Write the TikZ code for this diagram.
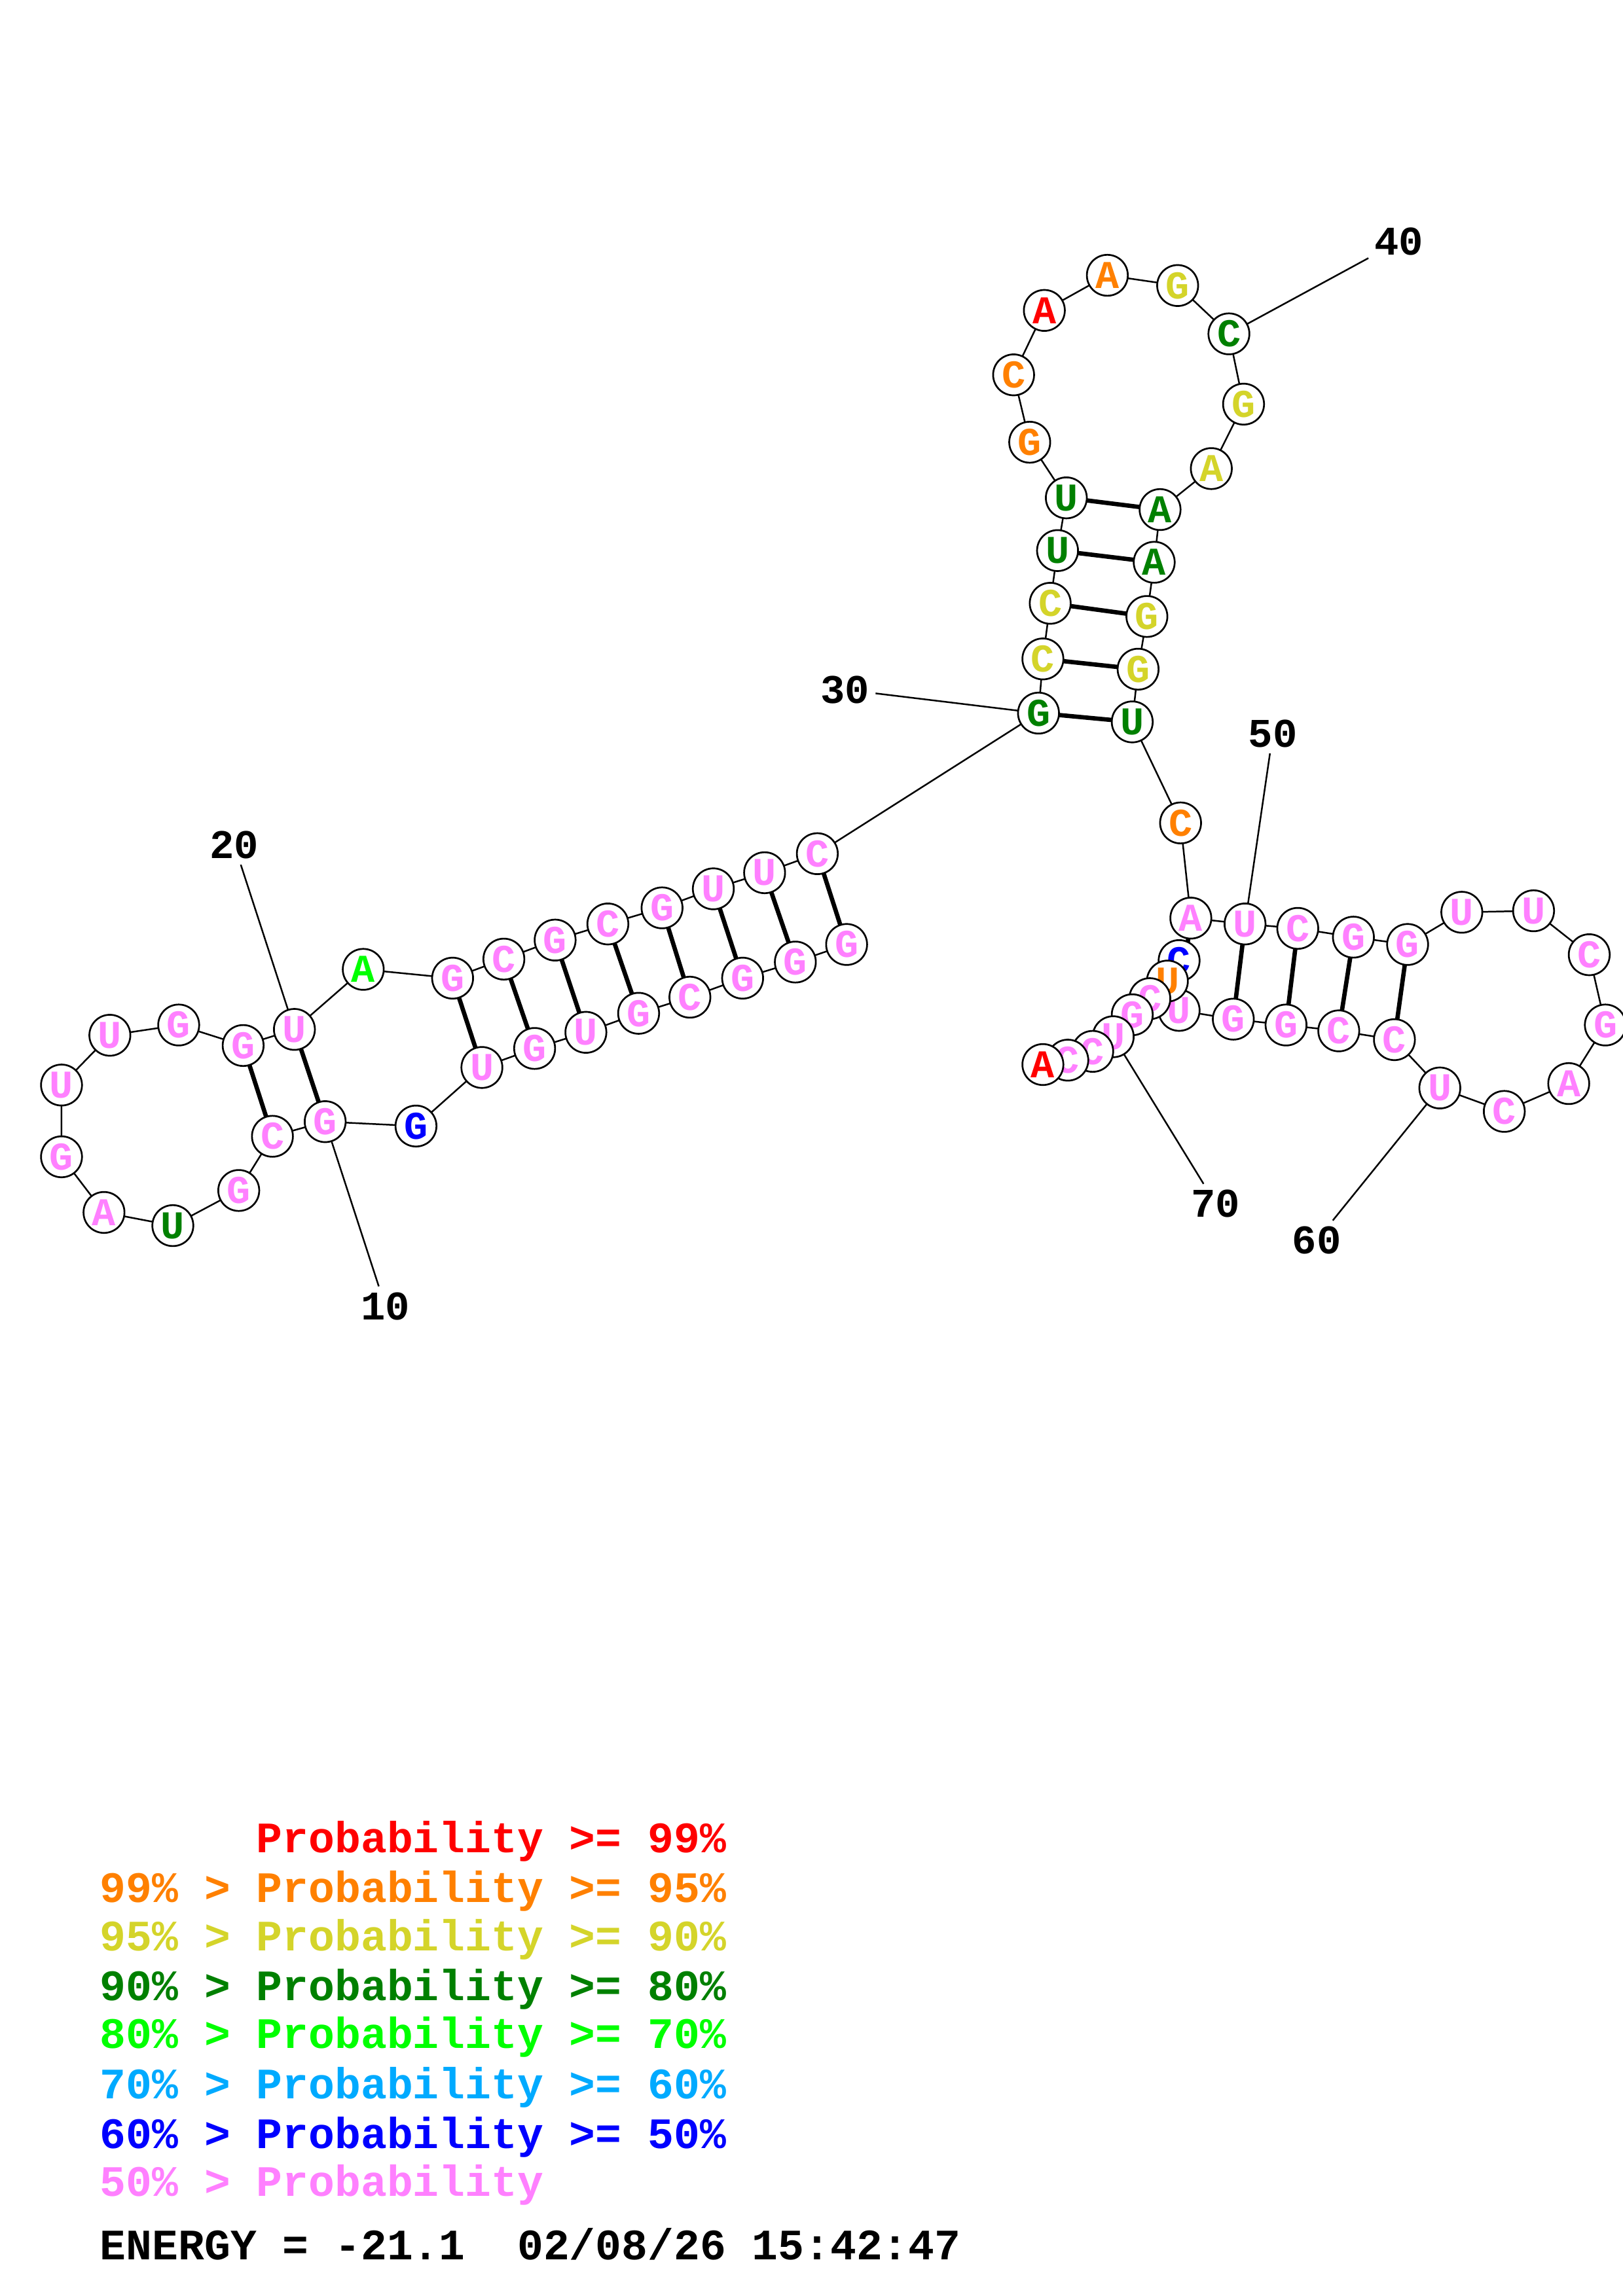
\documentclass[tikz,border=0pt]{standalone}
\usepackage{fontspec}
\usepackage{tikz}
\newfontfamily\courbd{Liberation Mono}[WordSpace={1,0,0}]
\definecolor{c99}{RGB}{255,0,0}
\definecolor{c95}{RGB}{255,128,0}
\definecolor{c90}{RGB}{212,212,42}
\definecolor{c80}{RGB}{0,128,0}
\definecolor{c70}{RGB}{0,255,0}
\definecolor{c60}{RGB}{0,170,255}
\definecolor{c50}{RGB}{0,0,255}
\definecolor{c00}{RGB}{255,128,255}
\pgfdeclarelayer{background}
\pgfsetlayers{background,main}

\begin{document}
\begin{tikzpicture}[x=0.018953cm,y=-0.018953cm,
  base/.style={circle,draw,line width=0.65pt,fill=white,minimum size=0.53cm,inner sep=0pt,
    font=\courbd\bfseries\fontsize{14.5}{14.5}\selectfont},
  p99/.style={base,text=c99},
  p95/.style={base,text=c95},
  p90/.style={base,text=c90},
  p80/.style={base,text=c80},
  p70/.style={base,text=c70},
  p50/.style={base,text=c50},
  p00/.style={base,text=c00},
  bb/.style={line width=0.6pt},
  bp/.style={line width=1.6pt},
  num/.style={inner sep=2pt,font=\courbd\bfseries\fontsize{15}{15}\selectfont},
  leg/.style={anchor=base west,inner sep=0pt,font=\courbd\bfseries\fontsize{16}{16}\selectfont}]
\useasboundingbox (0,0) rectangle (1108,1568);

% left stem and loop
\node[p00] (n1) at (578,645) {G};
\node[p00] (n2) at (543,657) {G};
\node[p00] (n3) at (507,668) {G};
\node[p00] (n4) at (471,681) {C};
\node[p00] (n5) at (436,692) {G};
\node[p00] (n6) at (400,705) {U};
\node[p00] (n7) at (365,716) {G};
\node[p00] (n8) at (329,729) {U};
\node[p50] (n9) at (284,769) {G};
\node[p00] (n10) at (222,766) {G};
\node[p00] (n11) at (186,776) {C};
\node[p00] (n12) at (163,813) {G};
\node[p80] (n13) at (118,837) {U};
\node[p00] (n14) at (71,828) {A};
\node[p00] (n15) at (42,790) {G};
\node[p00] (n16) at (42,741) {U};
\node[p00] (n17) at (75,707) {U};
\node[p00] (n18) at (122,700) {G};
\node[p00] (n19) at (166,714) {G};
\node[p00] (n20) at (201,703) {U};
\node[p70] (n21) at (248,662) {A};
\node[p00] (n22) at (309,668) {G};
\node[p00] (n23) at (344,655) {C};
\node[p00] (n24) at (379,642) {G};
\node[p00] (n25) at (415,631) {C};
\node[p00] (n26) at (452,620) {G};
\node[p00] (n27) at (487,607) {U};
\node[p00] (n28) at (522,596) {U};
\node[p00] (n29) at (558,583) {C};

% top hairpin
\node[p80] (n30) at (709,487) {G};
\node[p90] (n31) at (712,450) {C};
\node[p90] (n32) at (717,412) {C};
\node[p80] (n33) at (722,376) {U};
\node[p80] (n34) at (728,340) {U};
\node[p95] (n35) at (703,302) {G};
\node[p95] (n36) at (692,256) {C};
\node[p99] (n37) at (713,212) {A};
\node[p95] (n38) at (756,188) {A};
\node[p90] (n39) at (804,195) {G};
\node[p80] (n40) at (839,228) {C};
\node[p90] (n41) at (849,276) {G};
\node[p90] (n42) at (827,320) {A};
\node[p80] (n43) at (792,348) {A};
\node[p80] (n44) at (788,384) {A};
\node[p90] (n45) at (783,421) {G};
\node[p90] (n46) at (777,457) {G};
\node[p80] (n47) at (773,493) {U};
\node[p95] (n48) at (806,562) {C};

% right hairpin and tail
\node[p00] (n49) at (813,627) {A};
\node[p00] (n50) at (850,631) {U};
\node[p00] (n51) at (886,634) {C};
\node[p00] (n52) at (924,640) {G};
\node[p00] (n53) at (961,645) {G};
\node[p00] (n54) at (998,623) {U};
\node[p00] (n55) at (1047,622) {U};
\node[p00] (n56) at (1085,652) {C};
\node[p00] (n57) at (1096,700) {G};
\node[p00] (n58) at (1071,740) {A};
\node[p00] (n59) at (1027,759) {C};
\node[p00] (n60) at (983,743) {U};
\node[p00] (n61) at (952,710) {C};
\node[p00] (n62) at (914,704) {C};
\node[p00] (n63) at (878,700) {G};
\node[p00] (n64) at (842,696) {G};
\node[p00] (n65) at (805,690) {U};
\node[p50] (n66) at (805,656) {C};
\node[p95] (n67) at (797,670) {U};
\node[p00] (n68) at (785,682) {C};
\node[p00] (n69) at (773,693) {G};
\node[p00] (n70) at (760,708) {U};
\node[p00] (n71) at (746,718) {C};
\node[p00] (n72) at (729,724) {C};
\node[p99] (n73) at (712,727) {A};

% numbers
\node[num] (t10) at (263,892) {10};
\node[num] (t20) at (160,577) {20};
\node[num] (t30) at (577,471) {30};
\node[num] (t40) at (955,165) {40};
\node[num] (t50) at (869,501) {50};
\node[num] (t60) at (899,847) {60};
\node[num] (t70) at (830,822) {70};

\begin{pgfonlayer}{background}
% backbone
\draw[bb] (n1.center) -- (n2.center) -- (n3.center) -- (n4.center) -- (n5.center)
  -- (n6.center) -- (n7.center) -- (n8.center) -- (n9.center) -- (n10.center)
  -- (n11.center) -- (n12.center) -- (n13.center) -- (n14.center) -- (n15.center)
  -- (n16.center) -- (n17.center) -- (n18.center) -- (n19.center) -- (n20.center)
  -- (n21.center) -- (n22.center) -- (n23.center) -- (n24.center) -- (n25.center)
  -- (n26.center) -- (n27.center) -- (n28.center) -- (n29.center) -- (n30.center)
  -- (n31.center) -- (n32.center) -- (n33.center) -- (n34.center) -- (n35.center)
  -- (n36.center) -- (n37.center) -- (n38.center) -- (n39.center) -- (n40.center)
  -- (n41.center) -- (n42.center) -- (n43.center) -- (n44.center) -- (n45.center)
  -- (n46.center) -- (n47.center) -- (n48.center) -- (n49.center) -- (n50.center)
  -- (n51.center) -- (n52.center) -- (n53.center) -- (n54.center) -- (n55.center)
  -- (n56.center) -- (n57.center) -- (n58.center) -- (n59.center) -- (n60.center)
  -- (n61.center) -- (n62.center) -- (n63.center) -- (n64.center) -- (n65.center)
  -- (n66.center) -- (n67.center) -- (n68.center) -- (n69.center) -- (n70.center)
  -- (n71.center) -- (n72.center) -- (n73.center);
% pairs
\draw[bp] (n1.center) -- (n29.center);
\draw[bp] (n2.center) -- (n28.center);
\draw[bp] (n3.center) -- (n27.center);
\draw[bp] (n4.center) -- (n26.center);
\draw[bp] (n5.center) -- (n25.center);
\draw[bp] (n6.center) -- (n24.center);
\draw[bp] (n7.center) -- (n23.center);
\draw[bp] (n8.center) -- (n22.center);
\draw[bp] (n10.center) -- (n20.center);
\draw[bp] (n11.center) -- (n19.center);
\draw[bp] (n30.center) -- (n47.center);
\draw[bp] (n31.center) -- (n46.center);
\draw[bp] (n32.center) -- (n45.center);
\draw[bp] (n33.center) -- (n44.center);
\draw[bp] (n34.center) -- (n43.center);
\draw[bp] (n49.center) -- (n65.center);
\draw[bp] (n50.center) -- (n64.center);
\draw[bp] (n51.center) -- (n63.center);
\draw[bp] (n52.center) -- (n62.center);
\draw[bp] (n53.center) -- (n61.center);
% ticks
\draw[bb] (n10.center) -- (t10);
\draw[bb] (n20.center) -- (t20);
\draw[bb] (n30.center) -- (t30);
\draw[bb] (n40.center) -- (t40);
\draw[bb] (n50.center) -- (t50);
\draw[bb] (n60.center) -- (t60);
\draw[bb] (n70.center) -- (t70);
\end{pgfonlayer}

% legend
\node[leg,text=c99] (g1) at (68,1265) {\phantom{99\% > }Probability >= 99\%};
\node[leg,text=c95] (g2) at (68,1299) {99\% > Probability >= 95\%};
\node[leg,text=c90] (g3) at (68,1332) {95\% > Probability >= 90\%};
\node[leg,text=c80] (g4) at (68,1366) {90\% > Probability >= 80\%};
\node[leg,text=c70] (g5) at (68,1399) {80\% > Probability >= 70\%};
\node[leg,text=c60] (g6) at (68,1433) {70\% > Probability >= 60\%};
\node[leg,text=c50] (g7) at (68,1467) {60\% > Probability >= 50\%};
\node[leg,text=c00] (g8) at (68,1500) {50\% > Probability};
\node[leg] (en) at (68,1543) {ENERGY = -21.1\ \ 02/08/26 15:42:47};
\end{tikzpicture}
\end{document}
